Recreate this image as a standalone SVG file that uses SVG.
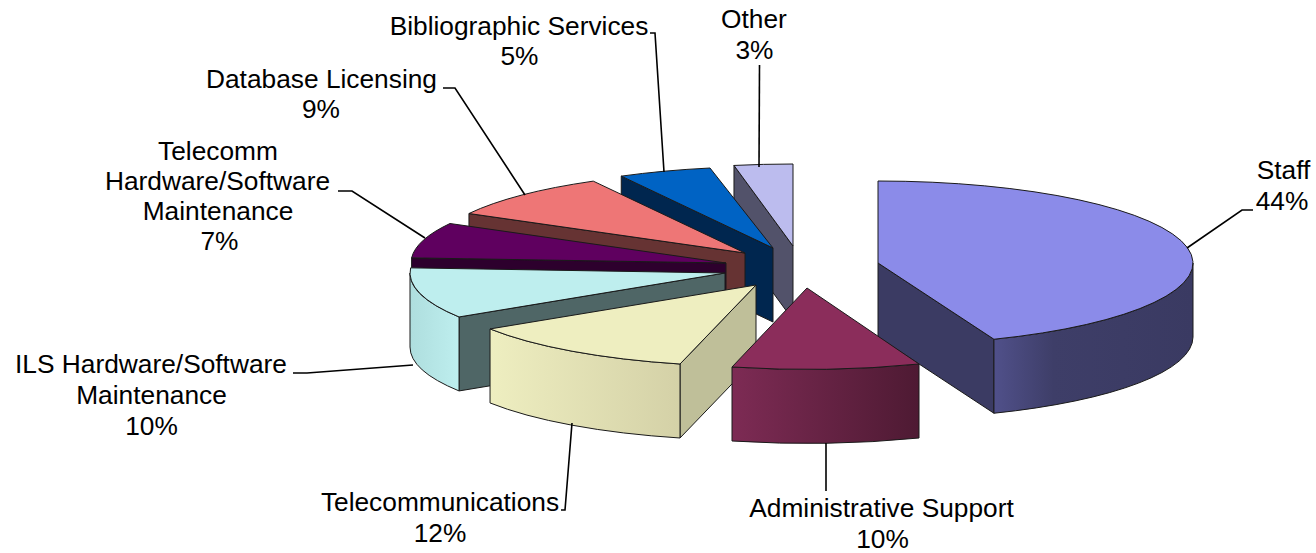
<svg xmlns="http://www.w3.org/2000/svg" width="1316" height="553" viewBox="0 0 1316 553">
<style>
.f{stroke:#1a1a1a;stroke-width:1;stroke-linejoin:round}
.lbl{font-family:"Liberation Sans",Arial,sans-serif;font-size:26.3px;fill:#000;text-anchor:middle}
.ld{fill:none;stroke:#000;stroke-width:1.6}
</style>
<defs>
<linearGradient id="gStaff" x1="0" y1="0" x2="1" y2="0"><stop offset="0" stop-color="#50508a"/><stop offset="0.3" stop-color="#3e3e68"/><stop offset="1" stop-color="#3a3a62"/></linearGradient>
<linearGradient id="gAdmin" x1="0" y1="0" x2="1" y2="0"><stop offset="0" stop-color="#7d2b54"/><stop offset="1" stop-color="#4e1a33"/></linearGradient>
<linearGradient id="gTel" x1="0" y1="0" x2="1" y2="0"><stop offset="0" stop-color="#eeeec0"/><stop offset="1" stop-color="#d4d1a7"/></linearGradient>
<linearGradient id="gIls" x1="0" y1="0" x2="1" y2="0"><stop offset="0" stop-color="#aedede"/><stop offset="1" stop-color="#beeeee"/></linearGradient>
</defs>
<rect width="1316" height="553" fill="#ffffff"/>

<g id="other">
<path class="f" fill="#52526a" d="M793,246 L733.98,165.45 L733.98,239.45 L793,320 Z"/>
<path class="f" fill="#bcbcee" d="M793,246 L733.98,165.45 A315,82 0 0,1 793,164 Z"/>
<text class="lbl" x="754" y="28">Other</text>
<text class="lbl" x="754.5" y="59">3%</text>
</g>

<g id="bibliographic">
<path class="f" fill="#00264f" d="M773,248 L621.25,176.14 L621.25,250.14 L773,322 Z"/>
<path class="f" fill="#0063c4" d="M773,248 L621.25,176.14 A315,82 0 0,1 710,168 Z"/>
<text class="lbl" x="519" y="35">Bibliographic Services</text>
<text class="lbl" x="519.5" y="65">5%</text>
</g>

<g id="database">
<path class="f" fill="#663333" d="M745,253 L468.96,213.5 L468.96,287.5 L745,327 Z"/>
<path class="f" fill="#ee7676" d="M745,253 L468.96,213.5 A315,82 0 0,1 593.25,181.14 Z"/>
<text class="lbl" x="321.5" y="88">Database Licensing</text>
<text class="lbl" x="321" y="118">9%</text>
</g>

<g id="telecomm-hw">
<path class="f" fill="#2d002d" d="M726,263 L411.62,257.85 L411.62,331.85 L726,337 Z"/>
<path class="f" fill="#5f005f" d="M726,263 L411.62,257.85 A315,82 0 0,1 449.96,223.5 Z"/>
<text class="lbl" x="218" y="160">Telecomm</text>
<text class="lbl" x="217.5" y="190">Hardware/Software</text>
<text class="lbl" x="218" y="220">Maintenance</text>
<text class="lbl" x="219.5" y="250">7%</text>
</g>

<g id="ils">
<path class="f" fill="#4f6666" d="M725,273 L459.04,316.94 L459.04,390.94 L725,347 Z"/>
<path class="f" fill="url(#gIls)" d="M459.04,316.94 A315,82 0 0,1 410,273 L410,347 A315,82 0 0,0 459.04,390.94 Z"/>
<path class="f" fill="#beeeee" d="M725,273 L459.04,316.94 A315,82 0 0,1 410.62,267.85 Z"/>
<text class="lbl" x="151" y="373">ILS Hardware/Software</text>
<text class="lbl" x="151.5" y="404">Maintenance</text>
<text class="lbl" x="151.5" y="435">10%</text>
</g>

<g id="telecommunications">
<path class="f" fill="#bfbf99" d="M756,285 L680,364 L680,438 L756,359 Z"/>
<path class="f" fill="url(#gTel)" d="M680,364 A315,82 0 0,1 490.04,328.94 L490.04,402.94 A315,82 0 0,0 680,438 Z"/>
<path class="f" fill="#eeeec0" d="M756,285 L680,364 A315,82 0 0,1 490.04,328.94 Z"/>
<text class="lbl" x="440" y="511">Telecommunications</text>
<text class="lbl" x="440" y="542">12%</text>
</g>

<g id="staff">
<path class="f" fill="#3b3b63" d="M878,263 L993.95,339.24 L993.95,413.24 L878,337 Z"/>
<path class="f" fill="url(#gStaff)" d="M1193,263 A315,82 0 0,1 993.95,339.24 L993.95,413.24 A315,82 0 0,0 1193,337 Z"/>
<path class="f" fill="#8b8be9" d="M878,263 L878,181 A315,82 0 0,1 993.95,339.24 Z"/>
<text class="lbl" x="1283.5" y="179">Staff</text>
<text class="lbl" x="1282" y="210">44%</text>
</g>

<g id="admin">
<path class="f" fill="url(#gAdmin)" d="M919,364 A315,82 0 0,1 732,367 L732,441 A315,82 0 0,0 919,438 Z"/>
<path class="f" fill="#8b2d5b" d="M807,288 L919,364 A315,82 0 0,1 732,367 Z"/>
<text class="lbl" x="881.5" y="517">Administrative Support</text>
<text class="lbl" x="882.5" y="548">10%</text>
</g>

<g id="connectors">
<polyline class="ld" points="1187,248 1242,210 1253,210"/>
<polyline class="ld" points="826,443 826,491"/>
<polyline class="ld" points="572,423 565,510 561,510"/>
<polyline class="ld" points="413,365 307,373 293,373"/>
<polyline class="ld" points="425,238 352,191 338,191"/>
<polyline class="ld" points="525,195 455,88 443,88"/>
<polyline class="ld" points="664,172 655,33 650,33"/>
<polyline class="ld" points="759.5,65 759,167"/>
</g>
</svg>
